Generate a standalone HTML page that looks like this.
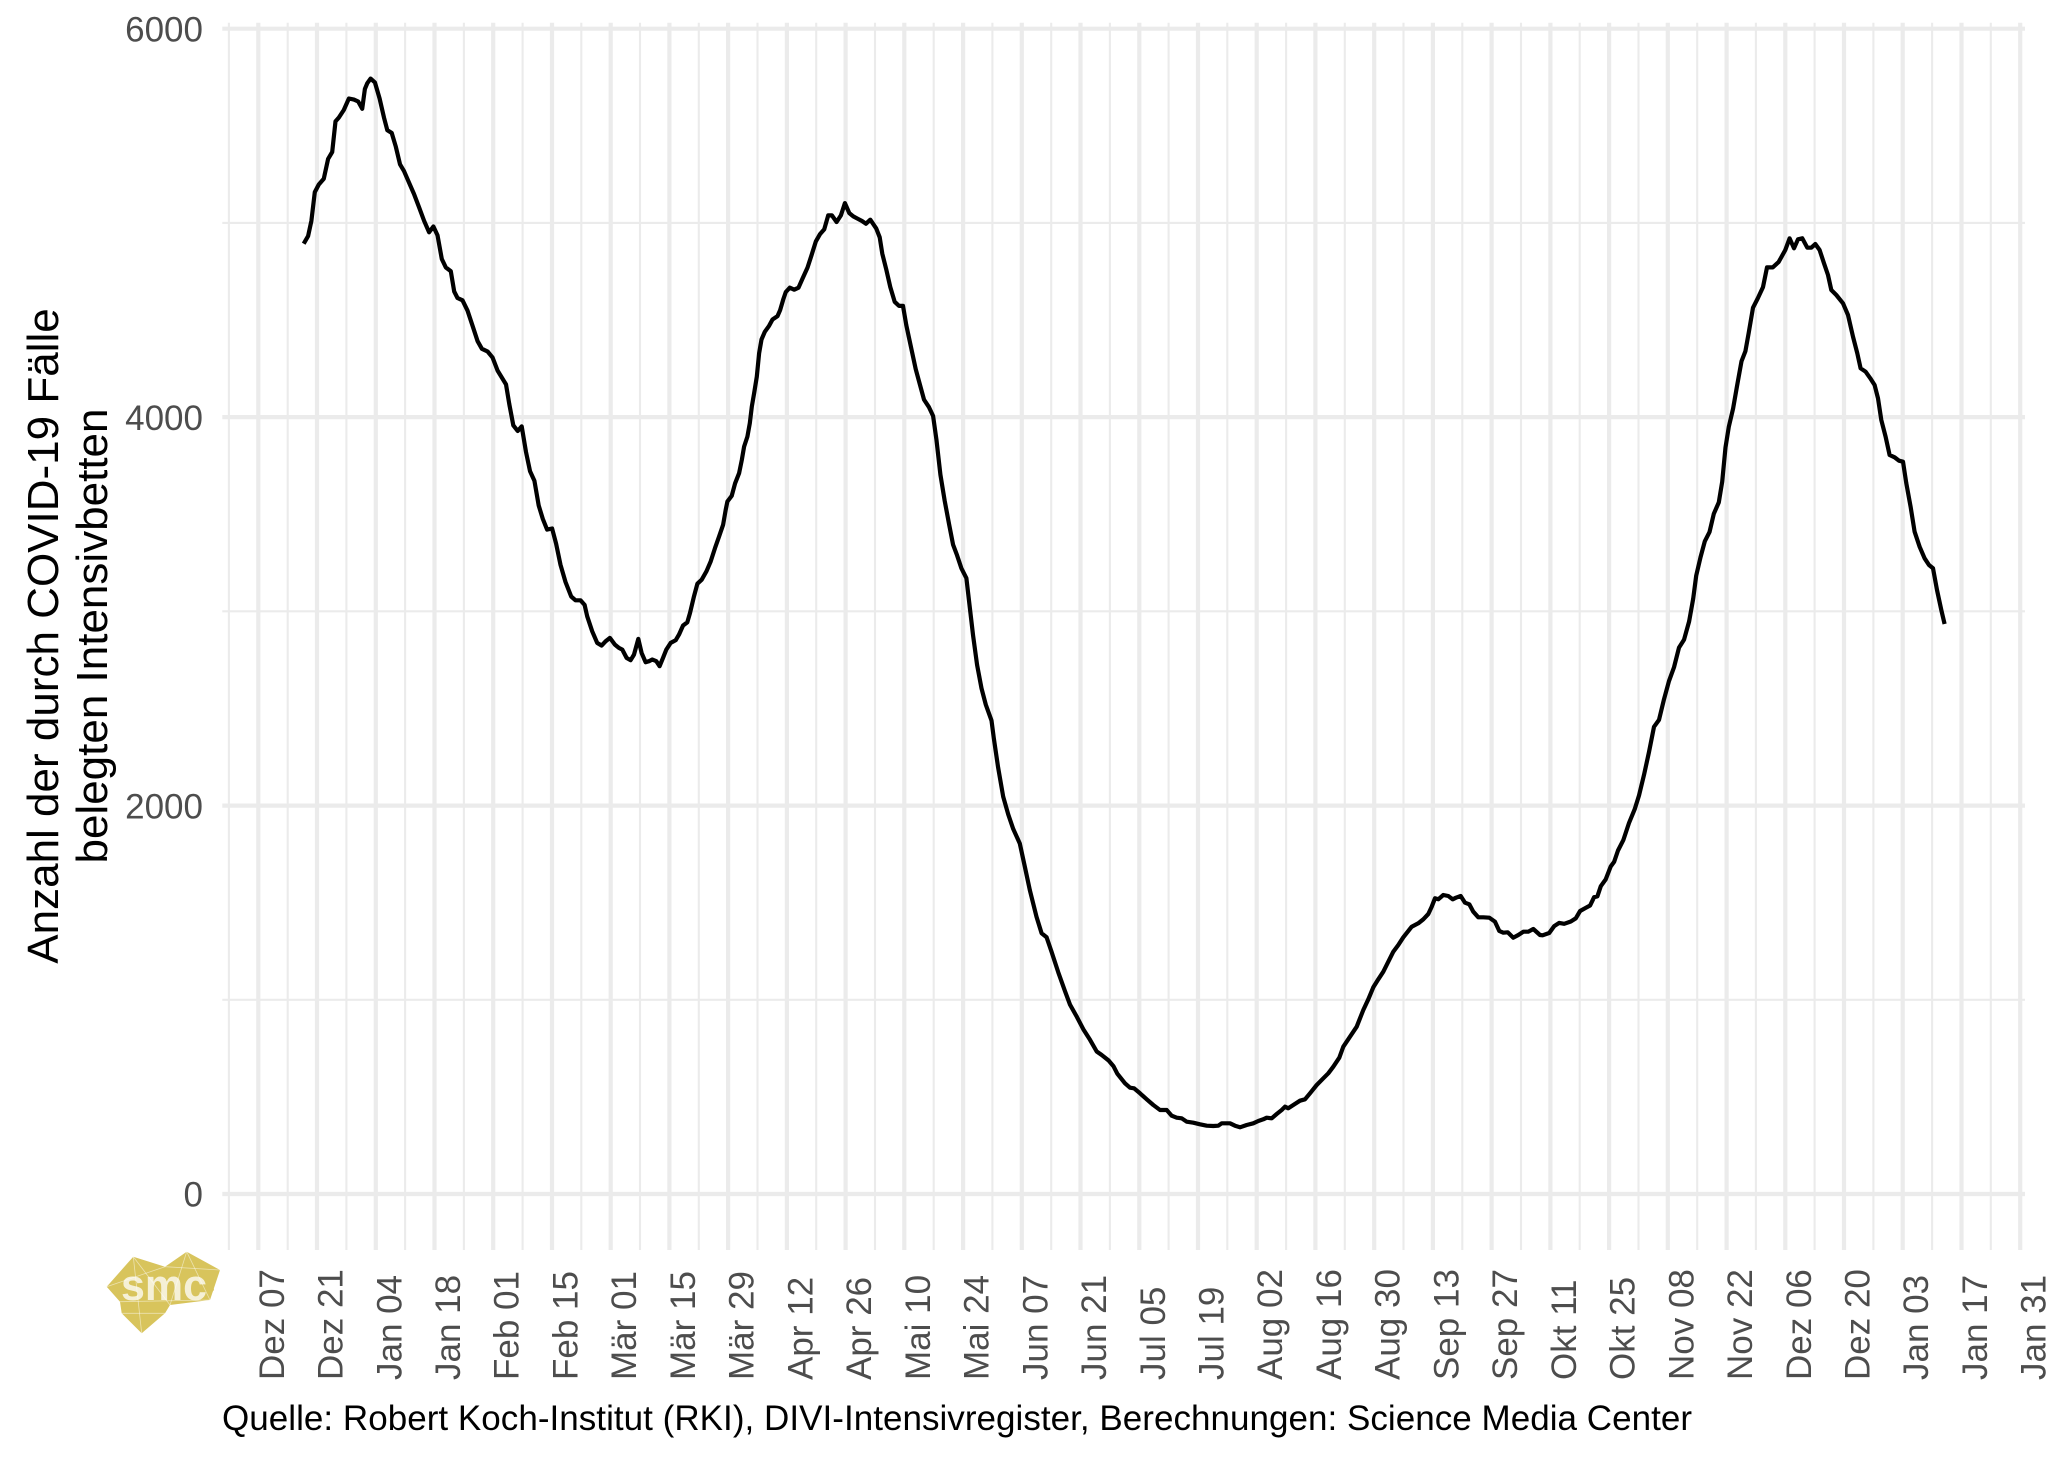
<!DOCTYPE html>
<html>
<head>
<meta charset="utf-8">
<style>
html,body{margin:0;padding:0;background:#ffffff;}
svg{display:block;}
</style>
</head>
<body>
<svg width="2048" height="1462" viewBox="0 0 2048 1462" xmlns="http://www.w3.org/2000/svg" font-family="'Liberation Sans', Arial, Helvetica, sans-serif">
<rect x="0" y="0" width="2048" height="1462" fill="#ffffff"/>

<!-- minor grid -->
<g stroke="#EBEBEB" stroke-width="2.1" fill="none">
<line x1="222.3" y1="999.8" x2="2025" y2="999.8"/>
<line x1="222.3" y1="611.3" x2="2025" y2="611.3"/>
<line x1="222.3" y1="222.9" x2="2025" y2="222.9"/>
<line x1="228.9" y1="22.7" x2="228.9" y2="1250"/>
<line x1="287.7" y1="22.7" x2="287.7" y2="1250"/>
<line x1="346.4" y1="22.7" x2="346.4" y2="1250"/>
<line x1="405.1" y1="22.7" x2="405.1" y2="1250"/>
<line x1="463.9" y1="22.7" x2="463.9" y2="1250"/>
<line x1="522.6" y1="22.7" x2="522.6" y2="1250"/>
<line x1="581.3" y1="22.7" x2="581.3" y2="1250"/>
<line x1="640.0" y1="22.7" x2="640.0" y2="1250"/>
<line x1="698.8" y1="22.7" x2="698.8" y2="1250"/>
<line x1="757.5" y1="22.7" x2="757.5" y2="1250"/>
<line x1="816.2" y1="22.7" x2="816.2" y2="1250"/>
<line x1="875.0" y1="22.7" x2="875.0" y2="1250"/>
<line x1="933.7" y1="22.7" x2="933.7" y2="1250"/>
<line x1="992.4" y1="22.7" x2="992.4" y2="1250"/>
<line x1="1051.2" y1="22.7" x2="1051.2" y2="1250"/>
<line x1="1109.9" y1="22.7" x2="1109.9" y2="1250"/>
<line x1="1168.6" y1="22.7" x2="1168.6" y2="1250"/>
<line x1="1227.3" y1="22.7" x2="1227.3" y2="1250"/>
<line x1="1286.1" y1="22.7" x2="1286.1" y2="1250"/>
<line x1="1344.8" y1="22.7" x2="1344.8" y2="1250"/>
<line x1="1403.5" y1="22.7" x2="1403.5" y2="1250"/>
<line x1="1462.3" y1="22.7" x2="1462.3" y2="1250"/>
<line x1="1521.0" y1="22.7" x2="1521.0" y2="1250"/>
<line x1="1579.7" y1="22.7" x2="1579.7" y2="1250"/>
<line x1="1638.5" y1="22.7" x2="1638.5" y2="1250"/>
<line x1="1697.2" y1="22.7" x2="1697.2" y2="1250"/>
<line x1="1755.9" y1="22.7" x2="1755.9" y2="1250"/>
<line x1="1814.6" y1="22.7" x2="1814.6" y2="1250"/>
<line x1="1873.4" y1="22.7" x2="1873.4" y2="1250"/>
<line x1="1932.1" y1="22.7" x2="1932.1" y2="1250"/>
<line x1="1990.8" y1="22.7" x2="1990.8" y2="1250"/>
</g>

<!-- major grid -->
<g stroke="#EBEBEB" stroke-width="4.2" fill="none">
<line x1="222.3" y1="1194" x2="2025" y2="1194"/>
<line x1="222.3" y1="805.6" x2="2025" y2="805.6"/>
<line x1="222.3" y1="417.1" x2="2025" y2="417.1"/>
<line x1="222.3" y1="28.7" x2="2025" y2="28.7"/>
<line x1="258.3" y1="22.7" x2="258.3" y2="1250"/>
<line x1="317.0" y1="22.7" x2="317.0" y2="1250"/>
<line x1="375.8" y1="22.7" x2="375.8" y2="1250"/>
<line x1="434.5" y1="22.7" x2="434.5" y2="1250"/>
<line x1="493.2" y1="22.7" x2="493.2" y2="1250"/>
<line x1="552.0" y1="22.7" x2="552.0" y2="1250"/>
<line x1="610.7" y1="22.7" x2="610.7" y2="1250"/>
<line x1="669.4" y1="22.7" x2="669.4" y2="1250"/>
<line x1="728.1" y1="22.7" x2="728.1" y2="1250"/>
<line x1="786.9" y1="22.7" x2="786.9" y2="1250"/>
<line x1="845.6" y1="22.7" x2="845.6" y2="1250"/>
<line x1="904.3" y1="22.7" x2="904.3" y2="1250"/>
<line x1="963.1" y1="22.7" x2="963.1" y2="1250"/>
<line x1="1021.8" y1="22.7" x2="1021.8" y2="1250"/>
<line x1="1080.5" y1="22.7" x2="1080.5" y2="1250"/>
<line x1="1139.3" y1="22.7" x2="1139.3" y2="1250"/>
<line x1="1198.0" y1="22.7" x2="1198.0" y2="1250"/>
<line x1="1256.7" y1="22.7" x2="1256.7" y2="1250"/>
<line x1="1315.4" y1="22.7" x2="1315.4" y2="1250"/>
<line x1="1374.2" y1="22.7" x2="1374.2" y2="1250"/>
<line x1="1432.9" y1="22.7" x2="1432.9" y2="1250"/>
<line x1="1491.6" y1="22.7" x2="1491.6" y2="1250"/>
<line x1="1550.4" y1="22.7" x2="1550.4" y2="1250"/>
<line x1="1609.1" y1="22.7" x2="1609.1" y2="1250"/>
<line x1="1667.8" y1="22.7" x2="1667.8" y2="1250"/>
<line x1="1726.6" y1="22.7" x2="1726.6" y2="1250"/>
<line x1="1785.3" y1="22.7" x2="1785.3" y2="1250"/>
<line x1="1844.0" y1="22.7" x2="1844.0" y2="1250"/>
<line x1="1902.7" y1="22.7" x2="1902.7" y2="1250"/>
<line x1="1961.5" y1="22.7" x2="1961.5" y2="1250"/>
<line x1="2020.2" y1="22.7" x2="2020.2" y2="1250"/>
</g>

<!-- data line -->
<path fill="none" stroke="#000000" stroke-width="4.2" stroke-linejoin="round" stroke-linecap="butt" d="
M303.7,243.7 L308.1,236.1 L311.4,220.8 L314.8,192.1 L318.8,184.5 L323.8,178.7 L328.1,158.9 L332.2,152.0 L335.5,121.4 L338.8,117.6 L343.8,110.0 L348.9,98.5 L353.9,99.6 L358.2,101.5 L362.2,108.8 L364.9,88.9 L367.3,83.2 L370.6,78.6 L374.9,82.4 L379.6,98.5 L384.0,117.6 L387.3,130.2 L391.7,132.9 L395.7,146.3 L400.0,164.3 L404.0,171.1 L409.0,182.6 L414.0,194.0 L419.1,207.4 L424.1,220.8 L429.1,232.3 L433.4,226.5 L437.5,235.3 L441.8,259.0 L445.8,267.4 L450.8,271.2 L454.2,291.5 L457.5,298.0 L462.5,300.3 L467.5,310.6 L472.6,325.9 L477.6,341.2 L481.9,348.8 L487.6,351.5 L492.6,357.6 L497.6,370.6 L506.0,384.4 L509.3,404.2 L513.3,425.3 L517.7,431.0 L521.7,426.4 L526.0,452.0 L530.0,471.1 L534.4,480.7 L538.7,505.5 L542.8,518.9 L547.1,529.6 L552.1,528.5 L556.1,543.7 L560.5,564.8 L565.5,582.0 L571.2,596.5 L575.5,600.3 L580.5,600.3 L584.6,604.9
L587.2,616.3 L592.2,631.3 L597.2,642.9 L601.6,645.6 L605.6,641.3 L609.9,637.9 L614.9,644.6 L618.9,647.9 L622.3,649.6 L626.6,657.9 L630.6,660.2 L634.0,654.6 L638.3,638.9 L641.6,652.9 L645.6,662.2 L649.0,661.2 L652.3,659.5 L656.3,661.2 L659.6,666.2 L663.0,657.9 L666.3,649.6 L670.7,642.9 L675.7,640.2 L679.0,634.6 L683.0,625.6 L687.3,622.3 L690.0,613.0 L694.0,596.3 L697.4,583.7 L701.7,579.7 L706.4,571.4 L710.7,561.4 L715.0,548.1 L719.1,536.4 L723.1,524.8 L725.7,509.8 L727.4,501.5 L731.7,495.9 L735.1,483.3 L739.1,473.2 L741.8,460.0 L744.1,446.6 L747.4,436.6 L749.8,423.3 L751.8,406.7 L754.1,393.4 L756.8,376.7 L759.1,353.4 L761.5,339.5 L764.8,331.8 L769.1,325.8 L772.5,319.5 L777.5,316.1 L780.1,310.2 L783.2,299.6 L785.8,292.0 L789.8,287.7 L794.2,289.7 L798.5,287.7 L802.5,278.6 L807.5,267.6 L811.5,255.3 L815.9,241.3 L819.9,234.3 L824.2,229.4 L828.2,215.4 L831.9,215.4 L836.6,222.0 L840.9,215.4 L844.9,203.1 L849.3,213.1 L853.3,216.4 L857.6,218.7 L862.0,221.0 L866.0,223.7 L870.3,219.7
L876.3,228.6 L879.7,237.3 L882.3,253.7 L886.3,269.6 L890.3,287.1 L894.7,301.8 L899.0,305.9 L903.0,305.9 L906.3,325.2 L911.3,348.6 L915.7,369.1 L919.7,383.8 L924.0,399.6 L929.0,407.2 L933.1,416.0 L936.4,439.4 L940.4,474.6 L944.7,500.9 L949.1,524.3 L953.1,544.8 L957.1,555.4 L961.4,568.3 L966.4,578.2 L969.8,607.5 L973.1,635.6 L977.1,665.0 L981.5,688.3 L985.8,704.7 L991.5,720.5 L993.8,738.1 L998.1,767.4 L1003.2,796.7 L1008.2,814.3 L1013.2,828.9 L1019.8,843.5 L1024.9,867.0 L1029.9,890.4 L1036.5,916.8 L1041.6,933.2 L1046.6,937.3 L1051.6,951.9 L1058.3,972.4 L1065.0,991.2 L1070.0,1004.6 L1076.6,1016.4 L1083.3,1029.2 L1090.0,1039.8 L1096.7,1051.5 L1101.7,1055.0 L1108.4,1060.3 L1113.4,1066.1 L1117.3,1073.7
L1125,1083.3 L1130,1087.7 L1134,1088.3 L1140,1093.3 L1146.7,1099.3 L1153.3,1105 L1160,1110 L1166.7,1110 L1171.7,1115.7 L1176.7,1117.7 L1181.7,1118.3 L1186.7,1121.7 L1193.3,1122.7 L1200,1124.3 L1206.7,1125.7 L1213.3,1126 L1218.3,1125.7 L1221.7,1123.3 L1230,1123.3 L1235,1125.7 L1240,1127.3 L1246.7,1125 L1253.3,1123.3 L1258.3,1121 L1263.3,1119.3 L1266.7,1117.7 L1271.7,1118.3 L1276.7,1114 L1281.7,1110 L1285,1106.7 L1288.3,1108.3 L1293.3,1105 L1300,1100.7 L1305,1099.3 L1310,1093.3 L1316.7,1085 L1323.3,1078.3 L1328.3,1073.3 L1333.3,1066.7 L1339.3,1057.7 L1343.3,1046.7 L1350,1036.7 L1356.7,1026.7 L1360,1018.3 L1363.3,1010 L1368.3,999.3 L1373.3,987.3 L1378.3,979.3 L1383.3,971.7 L1388.3,961.7 L1393.3,951.7 L1398.3,945 L1403.3,937.3 L1411.7,926.7 L1418.3,923.3 L1423.3,919.3 L1428.3,914 L1431.7,906.7 L1435,898.3 L1438.3,899.3 L1443.3,895 L1448.3,896 L1452.7,899.3 L1456,897.7 L1460.7,896 L1465,902.7 L1469.3,904.3 L1473.3,911.7 L1478.3,917.3 L1483.3,917.3 L1489.3,917.7 L1495,921.7 L1499.3,931 L1503.3,932.7 L1507.7,932.3 L1513.3,937.7 L1518.3,935 L1523.3,931.7 L1528.3,931.7 L1533.3,929 L1540,935
L1542.6,935.3 L1549.2,933 L1554.2,926.1 L1559.2,922.9 L1564.2,923.8 L1570.8,921.5 L1575.8,918.3 L1580.1,911 L1585.8,907.8 L1590.1,905.5 L1594.1,897.2 L1597.4,896.3 L1600.8,886.2 L1605.7,879.4 L1610.7,866.5 L1614.1,861.9 L1618.0,850.5 L1623.4,839.9 L1629.0,823 L1634.7,809.2 L1639.0,795.5 L1644.0,774.9 L1649.0,752 L1654.0,726.8 L1659.0,719.9 L1664.0,699.3 L1669.0,681 L1674.0,667.3 L1679.0,647.6 L1684.0,639.8 L1689.1,621.5 L1693.2,598.6 L1696.2,575.7 L1700.5,557.3 L1704.8,541.3 L1709.5,532.1 L1713.8,513.8 L1718.8,502.4 L1722.2,481.7 L1725.5,447.4 L1728.8,426.8 L1733.1,408.5 L1737.1,385.6 L1741.5,361.3 L1745.4,351.2 L1748.7,332.9 L1753.0,307.7 L1757.7,298.5 L1763.0,287.1 L1767.0,267.4 L1772.7,267.4 L1778.7,261.9
L1785.3,250 L1789.6,238.3 L1794,248.3 L1798,239.3 L1802.3,238.3 L1807.3,247.7 L1811.3,247.7 L1815.3,244 L1819.6,250 L1824,263.3 L1828,275 L1831.3,290 L1836.3,295 L1843,303.3 L1848,315 L1853,336.7 L1857.3,353.3 L1860.6,368.3 L1865.6,371.7 L1870.3,378.3 L1874.6,385 L1878,398.3 L1881.3,420 L1885.6,436.7 L1889.6,455 L1894.6,457.3 L1899,460.7 L1903,461.7 L1906.3,483.3 L1910.6,506.7 L1914.6,531.7 L1919.6,546.7 L1924.6,558.3 L1929,565 L1933,568.3 L1937,590 L1941.3,610 L1944.6,624"/>

<!-- y tick labels -->
<g font-size="35" fill="#4D4D4D" text-anchor="end">
<text x="203" y="41.4">6000</text>
<text x="203" y="429.8">4000</text>
<text x="203" y="818.3">2000</text>
<text x="203" y="1206.7">0</text>
</g>

<!-- x tick labels -->
<g font-size="35" fill="#4D4D4D">
<text transform="translate(283.8,1380) rotate(-90)">Dez 07</text>
<text transform="translate(342.5,1380) rotate(-90)">Dez 21</text>
<text transform="translate(401.3,1380) rotate(-90)">Jan 04</text>
<text transform="translate(460.0,1380) rotate(-90)">Jan 18</text>
<text transform="translate(518.7,1380) rotate(-90)">Feb 01</text>
<text transform="translate(577.5,1380) rotate(-90)">Feb 15</text>
<text transform="translate(636.2,1380) rotate(-90)">Mär 01</text>
<text transform="translate(694.9,1380) rotate(-90)">Mär 15</text>
<text transform="translate(753.6,1380) rotate(-90)">Mär 29</text>
<text transform="translate(812.4,1380) rotate(-90)">Apr 12</text>
<text transform="translate(871.1,1380) rotate(-90)">Apr 26</text>
<text transform="translate(929.8,1380) rotate(-90)">Mai 10</text>
<text transform="translate(988.6,1380) rotate(-90)">Mai 24</text>
<text transform="translate(1047.3,1380) rotate(-90)">Jun 07</text>
<text transform="translate(1106.0,1380) rotate(-90)">Jun 21</text>
<text transform="translate(1164.8,1380) rotate(-90)">Jul 05</text>
<text transform="translate(1223.5,1380) rotate(-90)">Jul 19</text>
<text transform="translate(1282.2,1380) rotate(-90)">Aug 02</text>
<text transform="translate(1340.9,1380) rotate(-90)">Aug 16</text>
<text transform="translate(1399.7,1380) rotate(-90)">Aug 30</text>
<text transform="translate(1458.4,1380) rotate(-90)">Sep 13</text>
<text transform="translate(1517.1,1380) rotate(-90)">Sep 27</text>
<text transform="translate(1575.9,1380) rotate(-90)">Okt 11</text>
<text transform="translate(1634.6,1380) rotate(-90)">Okt 25</text>
<text transform="translate(1693.3,1380) rotate(-90)">Nov 08</text>
<text transform="translate(1752.1,1380) rotate(-90)">Nov 22</text>
<text transform="translate(1810.8,1380) rotate(-90)">Dez 06</text>
<text transform="translate(1869.5,1380) rotate(-90)">Dez 20</text>
<text transform="translate(1928.2,1380) rotate(-90)">Jan 03</text>
<text transform="translate(1987.0,1380) rotate(-90)">Jan 17</text>
<text transform="translate(2045.7,1380) rotate(-90)">Jan 31</text>
</g>

<!-- y axis title -->
<g font-size="44" fill="#000000" text-anchor="middle">
<text transform="translate(58,636) rotate(-90)">Anzahl der durch COVID-19 Fälle</text>
<text transform="translate(107,636) rotate(-90)">belegten Intensivbetten</text>
</g>

<!-- caption -->
<text x="222" y="1430" font-size="35" fill="#000000" textLength="1470" lengthAdjust="spacing">Quelle: Robert Koch-Institut (RKI), DIVI-Intensivregister, Berechnungen: Science Media Center</text>

<!-- logo -->
<g>
<polygon fill="#D8C45C" points="106.7,1286.7 133.3,1256.7 165,1266.7 186.7,1251.7 205,1261.7 220,1270 210,1300 170,1305 165,1313.3 141.7,1333.3 121.7,1313.3 120,1301.7"/>
<polygon fill="#D8C45C" points="118,1285 130,1272 210,1272 214,1290 205,1300 125,1302"/>
<g stroke="#ffffff" stroke-opacity="0.5" stroke-width="0.8" fill="none">
<line x1="133.3" y1="1256.7" x2="141.7" y2="1333.3"/>
<line x1="106.7" y1="1286.7" x2="165" y2="1266.7"/>
<line x1="186.7" y1="1251.7" x2="170" y2="1305"/>
<line x1="186.7" y1="1251.7" x2="210" y2="1300"/>
<line x1="120" y1="1301.7" x2="210" y2="1300"/>
<line x1="165" y1="1266.7" x2="220" y2="1270"/>
<line x1="121.7" y1="1313.3" x2="165" y2="1313.3"/>
<line x1="133.3" y1="1256.7" x2="170" y2="1305"/>
</g>
<text x="121" y="1300" font-size="44" font-weight="bold" fill="#ffffff" fill-opacity="0.75" textLength="86" lengthAdjust="spacingAndGlyphs">smc</text>
</g>
</svg>
</body>
</html>
